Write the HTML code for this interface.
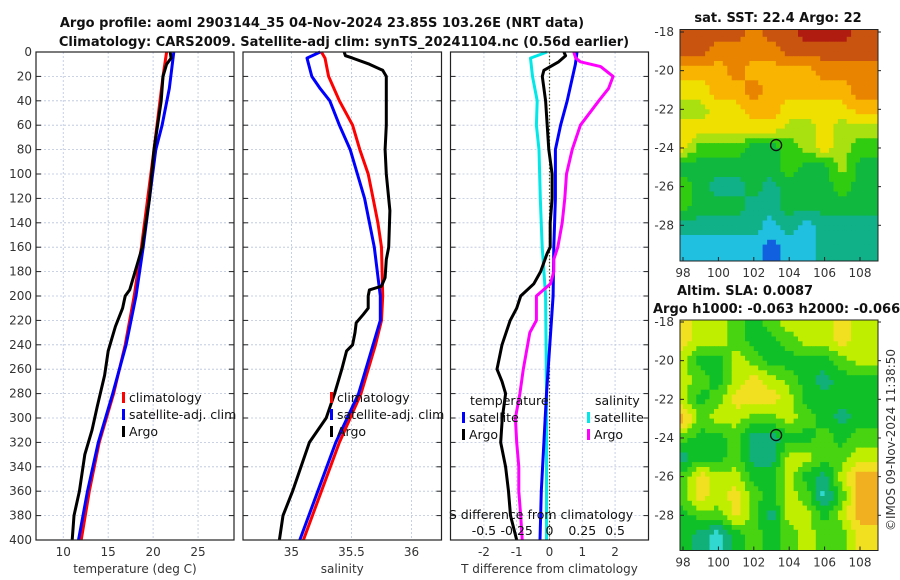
<!DOCTYPE html>
<html><head><meta charset="utf-8">
<style>
body{margin:0;background:#fff;}
svg{display:block;font-family:"DejaVu Sans","Liberation Sans",sans-serif;}
.tk{font-size:12px;fill:#333;}
.ttl{font-size:13px;font-weight:bold;fill:#111;}
.lg{font-size:12.5px;fill:#111;}
</style></head>
<body>
<svg id="fig" width="900" height="580" viewBox="0 0 900 580" xmlns="http://www.w3.org/2000/svg">
<text class="ttl" x="322" y="27" text-anchor="middle">Argo profile: aoml 2903144_35 04-Nov-2024 23.85S 103.26E (NRT data)</text>
<text class="ttl" x="344" y="46" text-anchor="middle">Climatology: CARS2009. Satellite-adj clim: synTS_20241104.nc (0.56d earlier)</text>
<g id="panels"></g>
<g id="maps"></g>
<text class="ttl" x="778" y="22" text-anchor="middle">sat. SST: 22.4 Argo: 22</text>
<text class="ttl" x="677" y="295">Altim. SLA: 0.0087</text>
<text class="ttl" x="653" y="313">Argo h1000: -0.063 h2000: -0.066</text>
<text class="tk" transform="translate(895,440) rotate(-90)" text-anchor="middle">©IMOS 09-Nov-2024 11:38:50</text>
</svg>
<script>
// ---- profile data ----
const tempClimDepth=[0,20,80,120,160,200,240,280,320,360,400];
const tempClim=[21.5,21.1,20.1,19.4,18.7,17.9,16.9,15.6,14.0,12.9,12.0];
const tempSatDepth=[0,30,60,80,120,160,200,240,280,320,360,400];
const tempSat=[22.3,21.8,21.0,20.3,19.6,18.9,18.1,17.0,15.5,13.9,12.7,11.7];
const tempArgoDepth=[0,5,10,20,40,80,120,160,180,195,200,210,225,245,265,290,310,330,360,380,400];
const tempArgo=[21.9,22.0,21.5,21.1,20.9,20.1,19.6,18.8,18.0,17.4,16.9,16.6,15.8,15.0,14.6,13.8,13.2,12.4,11.8,11.2,11.0];
const salClimDepth=[0,5,20,40,60,80,100,120,140,160,200,220,240,280,320,360,400];
const salClim=[35.25,35.28,35.31,35.40,35.51,35.57,35.64,35.68,35.72,35.75,35.76,35.75,35.70,35.58,35.40,35.25,35.10];
const salSatDepth=[0,5,20,30,40,60,80,100,120,160,200,220,240,280,320,360,400];
const salSat=[35.24,35.13,35.17,35.24,35.32,35.40,35.49,35.55,35.61,35.69,35.74,35.74,35.68,35.56,35.37,35.22,35.07];
const salArgoDepth=[0,3,5,10,15,20,60,80,100,130,160,170,185,192,195,200,210,215,222,230,240,245,260,280,300,320,340,360,380,400];
const salArgo=[35.44,35.45,35.51,35.65,35.76,35.79,35.79,35.78,35.79,35.82,35.81,35.79,35.78,35.75,35.65,35.64,35.64,35.60,35.54,35.53,35.51,35.46,35.42,35.36,35.29,35.15,35.08,35.01,34.93,34.90];
const dTArgoDepth=[0,3,8,15,20,40,60,80,100,120,140,160,165,180,190,200,210,220,240,260,270,280,300,320,340,360,380,400];
const dTArgo=[0.44,0.49,0.28,-0.17,-0.22,-0.12,-0.07,-0.02,0.08,0.08,0.02,0.02,-0.07,-0.27,-0.48,-0.88,-1.0,-1.2,-1.45,-1.6,-1.45,-1.34,-1.44,-1.49,-1.34,-1.25,-1.19,-1.0];
const dTSatDepth=[0,10,40,60,80,120,160,200,280,320,360,400];
const dTSat=[0.84,0.79,0.54,0.34,0.18,0.18,0.13,0.11,-0.09,-0.17,-0.25,-0.29];
const dSSatDepth=[0,5,20,40,60,80,120,160,200,280,400];
const dSSat=[-0.018,-0.145,-0.13,-0.094,-0.1,-0.08,-0.07,-0.056,-0.03,-0.023,-0.023];
const dSArgoDepth=[0,5,8,12,20,30,40,60,80,100,120,140,160,170,180,190,200,220,230,260,280,300,320,340,360,380,400];
const dSArgo=[0.185,0.2,0.236,0.39,0.485,0.45,0.376,0.236,0.173,0.13,0.117,0.097,0.063,0.033,0.033,0.008,-0.1,-0.1,-0.15,-0.2,-0.226,-0.26,-0.25,-0.234,-0.234,-0.22,-0.208];
const depthTicks=[0,20,40,60,80,100,120,140,160,180,200,220,240,260,280,300,320,340,360,380,400];
const tTicks=[10,15,20,25];
const sTicks=[35,35.5,36];
const dTTicks=[-2,-1,0,1,2];
const dSTicks=[-0.5,-0.25,0,0.25,0.5];
const dSTickLabels=["-0.5","-0.25","0","0.25","0.5"];
// ---- map data (value class per 1-degree cell, rows lat -18..-29, cols lon 98..108) ----
const mapLons=[98,99,100,101,102,103,104,105,106,107,108];
const mapLats=[-18,-19,-20,-21,-22,-23,-24,-25,-26,-27,-28,-29];
const sstGrid=[
[9,9,9,9,8,9,9,10,10,10,9],[9,9,8,8,8,8,9,9,9,9,9],[7,7,7,8,7,7,7,7,8,8,8],[6,6,7,7,8,7,7,7,7,7,8],
[5,5,6,6,7,7,6,6,6,6,7],[6,6,6,6,6,6,5,5,6,5,5],[6,4,4,4,3,3,4,5,6,5,4],[3,3,3,3,3,3,4,3,3,5,3],
[4,3,2,2,3,2,3,3,3,4,3],[4,3,3,3,2,2,3,3,3,3,3],[2,2,2,2,2,1,2,1,2,2,2],[1,1,1,1,1,0,1,1,2,2,2]];
const slaGrid=[
[5,4,4,3,2,3,4,4,4,5,4],[5,4,4,3,2,2,3,4,4,5,4],[4,2,2,4,3,2,2,2,2,3,4],[4,3,2,4,5,4,3,2,1,2,2],
[4,2,3,5,5,5,4,2,2,2,2],[6,3,4,4,3,3,4,3,2,1,2],[3,2,2,3,1,1,2,2,3,2,3],[1,2,2,3,1,1,4,4,3,3,4],
[3,5,4,4,2,2,4,2,1,4,6],[3,5,4,5,3,2,4,3,0,3,6],[2,3,3,5,3,1,4,4,2,4,6],[2,1,0,2,3,2,3,4,3,3,5]];
const argoLon=103.26, argoLat=-23.85;
const mapTicksLon=[98,100,102,104,106,108];
const mapTicksLat=[-18,-20,-22,-24,-26,-28];

const NS="http://www.w3.org/2000/svg";
function mk(tag,attrs,parent){const e=document.createElementNS(NS,tag);for(const k in attrs)e.setAttribute(k,attrs[k]);parent.appendChild(e);return e;}
const Y0=52,Y1=540;
const yD=d=>Y0+(d/400)*(Y1-Y0);
const P=document.getElementById('panels');

function panel(name,x0,x1,vmin,vmax,xticks,xlabels,xtitle,showY){
  const g=mk('g',{},P);
  
  
  const sx=v=>x0+(v-vmin)/(vmax-vmin)*(x1-x0);
  depthTicks.forEach(d=>{
    const l=mk('line',{x1:x0,x2:x1,y1:yD(d),y2:yD(d),stroke:'#b8c4dc','stroke-width':0.8,'stroke-dasharray':'2,2'},g);
    
    
    mk('line',{x1:x0,x2:x0+5,y1:yD(d),y2:yD(d),stroke:'#222'},g);
    mk('line',{x1:x1-5,x2:x1,y1:yD(d),y2:yD(d),stroke:'#222'},g);
    if(showY){const t=mk('text',{x:x0-4,y:yD(d)+4,class:'tk','text-anchor':'end'},g);t.textContent=d;
      
      }
  });
  xticks.forEach((v,i)=>{
    const l=mk('line',{x1:sx(v),x2:sx(v),y1:Y0,y2:Y1,stroke:'#b8c4dc','stroke-width':0.8,'stroke-dasharray':'2,2'},g);
    
    
    const t=mk('text',{x:sx(v),y:556,class:'tk','text-anchor':'middle'},g);t.textContent=xlabels[i];
    
    
  });
  const tt=mk('text',{x:(x0+x1)/2,y:573,class:'tk','text-anchor':'middle','font-size':'12.5px'},g);tt.textContent=xtitle;
  
  
  return {g,sx};
}
function series(g,sx,depths,vals,color,name){
  const pts=depths.map((d,i)=>sx(vals[i]).toFixed(1)+','+yD(d).toFixed(1)).join(' ');
  const l=mk('polyline',{points:pts,fill:'none',stroke:color,'stroke-width':3,'stroke-linejoin':'round'},g);
  
  
}
function frame(g,x0,x1){mk('rect',{x:x0,y:Y0,width:x1-x0,height:Y1-Y0,fill:'none',stroke:'#222','stroke-width':1.2},g);}
function legend(g,x,y,color,label,name){
  mk('rect',{x:x,y:y-9,width:3,height:11,fill:color},g);
  const t=mk('text',{x:x+7,y:y+1,class:'lg'},g);t.textContent=label;
  
  
}
// panel 1
let p=panel('temperature-panel',36,234,6.97,29,tTicks,tTicks.map(String),'temperature (deg C)',true);
series(p.g,p.sx,tempClimDepth,tempClim,'#ff0000','temp-climatology-line');
series(p.g,p.sx,tempSatDepth,tempSat,'#0000ff','temp-satellite-line');
series(p.g,p.sx,tempArgoDepth,tempArgo,'#000000','temp-argo-line');
legend(p.g,122,401,'#ff0000','climatology','legend-climatology');
legend(p.g,122,418,'#0000ff','satellite-adj. clim','legend-satellite');
legend(p.g,122,435,'#000000','Argo','legend-argo');
frame(p.g,36,234);
// panel 2
p=panel('salinity-panel',243,441.5,34.597,36.25,sTicks,['35','35.5','36'],'salinity',false);
series(p.g,p.sx,salClimDepth,salClim,'#ff0000','sal-climatology-line');
series(p.g,p.sx,salSatDepth,salSat,'#0000ff','sal-satellite-line');
series(p.g,p.sx,salArgoDepth,salArgo,'#000000','sal-argo-line');
legend(p.g,330,401,'#ff0000','climatology','legend-climatology-2');
legend(p.g,330,418,'#0000ff','satellite-adj. clim','legend-satellite-2');
legend(p.g,330,435,'#000000','Argo','legend-argo-2');
frame(p.g,243,441.5);
// panel 3
p=panel('difference-panel',450.5,648.5,-3.02,3.02,dTTicks,dTTicks.map(String),'T difference from climatology',false);
const sxS=v=>p.sx(v*4);
{const z=mk('line',{x1:p.sx(0),x2:p.sx(0),y1:Y0,y2:Y1,stroke:'#4a4a20','stroke-width':1.2,'stroke-dasharray':'1.5,2'},p.g);

}
series(p.g,sxS,dSSatDepth,dSSat,'#00e8e8','sdiff-satellite-line');
series(p.g,p.sx,dTSatDepth,dTSat,'#0000ff','tdiff-satellite-line');
series(p.g,sxS,dSArgoDepth,dSArgo,'#ff00ff','sdiff-argo-line');
series(p.g,p.sx,dTArgoDepth,dTArgo,'#000000','tdiff-argo-line');
{const t=mk('text',{x:470,y:405,class:'lg'},p.g);t.textContent='temperature';

const s=mk('text',{x:595,y:405,class:'lg'},p.g);s.textContent='salinity';
}
legend(p.g,462,421,'#0000ff','satellite','legend-t-satellite');
legend(p.g,462,438,'#000000','Argo','legend-t-argo');
legend(p.g,587,421,'#00e8e8','satellite','legend-s-satellite');
legend(p.g,587,438,'#ff00ff','Argo','legend-s-argo');
{const t=mk('text',{x:541,y:519,class:'lg','text-anchor':'middle'},p.g);t.textContent='S difference from climatology';
}
dSTicks.forEach((v,i)=>{const t=mk('text',{x:sxS(v),y:535,class:'lg','text-anchor':'middle'},p.g);t.textContent=dSTickLabels[i];
});
frame(p.g,450.5,648.5);

// ---- maps ----
const sstColors=['#1060e0','#20c0e0','#10b088','#10b840','#30cc10','#a8e010','#f0e000','#f8b400','#e88400','#c85410','#b01c10'];
const slaColors=['#30d8d0','#10b078','#10c028','#48d410','#c0ee00','#f0e020','#f0b020'];
const M=document.getElementById('maps');
function sample(grid,lat,lon){
  // bilinear interpolation between cell centres (display smoothing only)
  const nr=grid.length,nc=grid[0].length;
  let r=(-18-lat),c=(lon-98);
  r=Math.max(0,Math.min(nr-1,r));c=Math.max(0,Math.min(nc-1,c));
  const r0=Math.floor(r),c0=Math.floor(c),r1=Math.min(nr-1,r0+1),c1=Math.min(nc-1,c0+1);
  const fr=r-r0,fc=c-c0;
  return grid[r0][c0]*(1-fr)*(1-fc)+grid[r0][c1]*(1-fr)*fc+grid[r1][c0]*fr*(1-fc)+grid[r1][c1]*fr*fc;
}
function drawMap(name,yTop,yBot,latRef,grid,colors){
  const g=mk('g',{},M);
  
  
  const X0=680,X1=878;
  const sx=lon=>683+(lon-98)*17.7;
  const sy=lat=>latRef+(-18-lat)*19.33;
  const cg=mk('g',{},g);
  const step=0.25;
  for(let lat=-17.75;lat>-30.1;lat-=step){
    for(let lon=97.75;lon<109.1;lon+=step){
      const v=Math.round(sample(grid,lat-step/2,lon+step/2));
      const x=Math.max(X0,sx(lon)),y=Math.max(yTop,sy(lat));
      const x2=Math.min(X1,sx(lon+step)+0.5),y2=Math.min(yBot,sy(lat-step)+0.5);
      if(x2<=x||y2<=y)continue;
      const cell=mk('rect',{x:x.toFixed(1),y:y.toFixed(1),width:(x2-x).toFixed(1),height:(y2-y).toFixed(1),fill:colors[v]},cg);
      
      
    }
  }
  const mkr=mk('circle',{cx:sx(argoLon),cy:sy(argoLat),r:5.5,fill:'none',stroke:'#111','stroke-width':1.3},g);
  
  
  mk('rect',{x:X0,y:yTop,width:X1-X0,height:yBot-yTop,fill:'none',stroke:'#222','stroke-width':1},g);
  mapTicksLon.forEach(v=>{
    mk('line',{x1:sx(v),x2:sx(v),y1:yBot,y2:yBot-4,stroke:'#222'},g);
    const t=mk('text',{x:sx(v),y:yBot+16,class:'tk','text-anchor':'middle'},g);t.textContent=v;
    
  });
  mapTicksLat.forEach(v=>{
    mk('line',{x1:X0,x2:X0+4,y1:sy(v),y2:sy(v),stroke:'#222'},g);
    mk('line',{x1:X1,x2:X1+3,y1:sy(v),y2:sy(v),stroke:'#222'},g);
    const t=mk('text',{x:X0-6,y:sy(v)+4,class:'tk','text-anchor':'end'},g);t.textContent=v;
    
  });
}
drawMap('sst-map',29.5,261,32,sstGrid,sstColors);
drawMap('sla-map',320,550.5,322,slaGrid,slaColors);
</script>
</body></html>
